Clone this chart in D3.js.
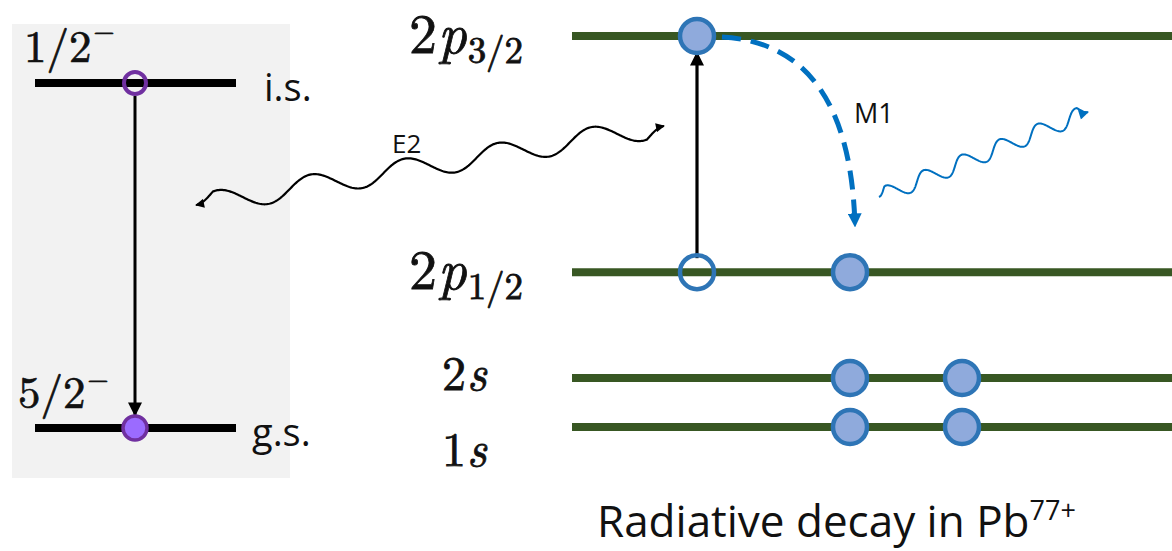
<!DOCTYPE html>
<html>
<head>
<meta charset="utf-8">
<script src="https://cdn.jsdelivr.net/npm/d3@7/dist/d3.min.js"></script>
<style>
  html, body { margin: 0; padding: 0; background: #fff; }
  svg { display: block; }
</style>
</head>
<body>
<svg id="c" width="1172" height="551"></svg>
<script>
// ---- data ----
const nuclearLevels = ["i.s.", "g.s."];
const nuclearSpins = ["1/2", "5/2"];
const nuclearEnergy = [1, 0];

const atomicLevels = ["2p3/2", "2p1/2", "2s", "1s"];
const atomicMain = ["2", "2", "2", "1"];
const atomicLetter = ["p", "p", "s", "s"];
const atomicSub = ["3/2", "1/2", "", ""];
const atomicEnergy = [7.98, 3.16, 1.0, 0.0];

const slots = ["a", "b", "c"];
// electrons: level, slot, filled
const electronLevel = ["2p3/2", "2p1/2", "2p1/2", "2s", "2s", "1s", "1s"];
const electronSlot  = ["a", "a", "b", "b", "c", "b", "c"];
const electronFill  = [true, false, true, true, true, true, true];

const transitionLabels = ["E2", "M1"];
const title = "Radiative decay in Pb";
const titleSup = "77+";

// ---- drawing ----
const svg = d3.select("#c");
const W = 1172, H = 551;

const yNuc = d3.scaleLinear().domain([0, 1]).range([428, 83]);
const yAt = d3.scaleLinear().domain([0, 7.98]).range([427, 36]);
const xSlot = d3.scaleOrdinal().domain(slots).range([697, 850, 962]);

const GREEN = "#385723", BLUE = "#0070c0", CFILL = "#8faadc", CSTROKE = "#2e75b6";
const PURPLE = "#7030a0", PFILL = "#9b6bff";
const LM = '"Latin Modern Roman"';
const SANS = '"Open Sans"';

const defs = svg.append("defs");
function marker(id, color, w, h) {
  defs.append("marker").attr("id", id)
    .attr("viewBox", "0 0 10 10").attr("refX", 9).attr("refY", 5)
    .attr("markerWidth", w).attr("markerHeight", h)
    .attr("markerUnits", "userSpaceOnUse")
    .attr("orient", "auto-start-reverse")
    .append("path").attr("d", "M0,0 L10,5 L0,10 Z").attr("fill", color);
}
marker("arrBlack", "#000", 15, 14);
marker("arrWave", "#000", 11, 9);
marker("arrBlue", BLUE, 14, 14);
marker("arrBlueSmall", BLUE, 12, 10);

// left panel background
svg.append("rect").attr("x", 12).attr("y", 24).attr("width", 278).attr("height", 454)
  .attr("fill", "#f2f2f2");

// nuclear levels
const nuc = svg.append("g");
nuc.selectAll("line.lvl").data(nuclearLevels).join("line")
  .attr("x1", 35).attr("x2", 236)
  .attr("y1", (d, i) => yNuc(nuclearEnergy[i])).attr("y2", (d, i) => yNuc(nuclearEnergy[i]))
  .attr("stroke", "#000").attr("stroke-width", 8);

const nlX = [264, 252];
nuc.selectAll("text.nl").data(nuclearLevels).join("text")
  .style("font-family", SANS)
  .attr("x", (d, i) => nlX[i]).attr("y", (d, i) => yNuc(nuclearEnergy[i]) + 18)
  .attr("font-size", 38).attr("fill", "#111")
  .text(d => d);

const spinX = [24, 18];
const spinBase = [-21, -20];
const spinSupDy = [-22, -20];
nuc.selectAll("text.sp").data(nuclearSpins).join("text")
  .style("font-family", LM)
  .attr("x", (d, i) => spinX[i]).attr("y", (d, i) => yNuc(nuclearEnergy[i]) + spinBase[i])
  .attr("font-size", 45).attr("fill", "#111")
  .attr("stroke", "#111").attr("stroke-width", 0.7)
  .each(function(d, i) {
    const t = d3.select(this);
    t.append("tspan").text(d);
    t.append("tspan").attr("dy", spinSupDy[i]).attr("dx", 2).attr("font-size", 27).text("\u2212");
  });

// nuclear decay arrow
nuc.append("line").attr("x1", 135).attr("x2", 135)
  .attr("y1", yNuc(1) + 13).attr("y2", yNuc(0) - 13)
  .attr("stroke", "#000").attr("stroke-width", 3)
  .attr("marker-end", "url(#arrBlack)");

// nuclear state circles
nuc.append("circle").attr("cx", 135).attr("cy", yNuc(1)).attr("r", 11)
  .attr("fill", "none").attr("stroke", PURPLE).attr("stroke-width", 4);
nuc.append("circle").attr("cx", 135).attr("cy", yNuc(0)).attr("r", 12)
  .attr("fill", PFILL).attr("stroke", PURPLE).attr("stroke-width", 3.5);

// atomic levels
const at = svg.append("g");
at.selectAll("line").data(atomicLevels).join("line")
  .attr("x1", 572).attr("x2", W)
  .attr("y1", (d, i) => yAt(atomicEnergy[i])).attr("y2", (d, i) => yAt(atomicEnergy[i]))
  .attr("stroke", GREEN).attr("stroke-width", 8);

const labelX = [409, 409, 442, 442];
const labelDy = [17, 17, 12, 39];
const labelSize = [56, 56, 48, 48];
at.selectAll("text").data(atomicLevels).join("text")
  .style("font-family", LM)
  .attr("x", (d, i) => labelX[i]).attr("y", (d, i) => yAt(atomicEnergy[i]) + labelDy[i])
  .attr("font-size", (d, i) => labelSize[i]).attr("fill", "#111")
  .attr("stroke", "#111").attr("stroke-width", 0.8)
  .each(function(d, i) {
    const t = d3.select(this);
    t.append("tspan").text(atomicMain[i]);
    t.append("tspan").attr("font-style", "italic").attr("dx", 1).text(atomicLetter[i]);
    if (atomicSub[i]) t.append("tspan").attr("dy", 10).attr("dx", 1)
      .attr("font-size", 37).text(atomicSub[i]);
  });

// excitation arrow
at.append("line").attr("x1", 697).attr("x2", 697)
  .attr("y1", yAt(3.16) - 14).attr("y2", yAt(7.98) + 17)
  .attr("stroke", "#000").attr("stroke-width", 3.2)
  .attr("marker-end", "url(#arrBlack)");

// M1 dashed curve
at.append("path")
  .attr("d", `M722,${yAt(7.98) + 1} Q850,44 855,226`)
  .attr("fill", "none").attr("stroke", BLUE).attr("stroke-width", 5)
  .attr("stroke-dasharray", "19,10")
  .attr("marker-end", "url(#arrBlue)");
at.append("text").style("font-family", SANS).attr("x", 854).attr("y", 123)
  .attr("font-size", 27).attr("fill", "#111").text(transitionLabels[1]);

// electrons
const el = electronLevel.map((l, i) => ({ l, s: electronSlot[i], f: electronFill[i] }));
at.selectAll("circle").data(el).join("circle")
  .attr("cx", d => xSlot(d.s))
  .attr("cy", d => yAt(atomicEnergy[atomicLevels.indexOf(d.l)]))
  .attr("r", 17)
  .attr("fill", d => d.f ? CFILL : "none")
  .attr("stroke", CSTROKE).attr("stroke-width", 4.5);

// wave generator (shape of a photon line)
function wave(x0, y0, x1, y1, periods, amp, phase) {
  const dx = x1 - x0, dy = y1 - y0, L = Math.hypot(dx, dy);
  const nx = -dy / L, ny = dx / L;
  const pts = [];
  const N = 400;
  for (let k = 0; k <= N; k++) {
    const t = k / N;
    const env = Math.min(1, t / 0.04, (1 - t) / 0.04);
    const o = amp * Math.sin(2 * Math.PI * periods * t + phase) * env;
    pts.push([x0 + dx * t + nx * o, y0 + dy * t + ny * o]);
  }
  return d3.line()(pts);
}

// E2 wave
svg.append("path")
  .attr("d", wave(196, 205, 664, 126, 5, 11, Math.PI))
  .attr("fill", "none").attr("stroke", "#000").attr("stroke-width", 2.2)
  .attr("marker-start", "url(#arrWave)").attr("marker-end", "url(#arrWave)");
svg.append("text").style("font-family", SANS).attr("x", 392).attr("y", 153)
  .attr("font-size", 26).attr("fill", "#111").text(transitionLabels[0]);

// M1 photon
svg.append("path")
  .attr("d", wave(879, 197, 1088, 112, 5.5, 8, Math.PI))
  .attr("fill", "none").attr("stroke", BLUE).attr("stroke-width", 2)
  .attr("marker-end", "url(#arrBlueSmall)");

// title
const tt = svg.append("text").style("font-family", SANS).attr("x", 597).attr("y", 537)
  .attr("font-size", 44).attr("fill", "#111");
tt.append("tspan").text(title);
tt.append("tspan").attr("dy", -17).attr("font-size", 27).text(titleSup);
</script>
</body>
</html>
